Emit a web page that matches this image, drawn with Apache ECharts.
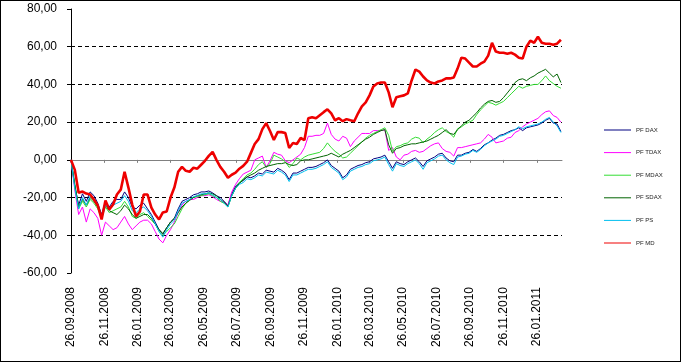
<!DOCTYPE html>
<html>
<head>
<meta charset="utf-8">
<script src="https://cdn.jsdelivr.net/npm/echarts@6/dist/echarts.min.js"></script>
<style>
html,body{margin:0;padding:0;background:#fff;}
#c{width:681px;height:362px;box-sizing:border-box;border:1px solid #000;}
</style>
</head>
<body>
<div id="c"></div>
<script>
// ---- data ----
var startDate = '26.09.2008';   // first weekly observation
var tickLabels = ['26.09.2008','26.11.2008','26.01.2009','26.03.2009','26.05.2009','26.07.2009','26.09.2009','26.11.2009',
  '26.01.2010','26.03.2010','26.05.2010','26.07.2010','26.09.2010','26.11.2010','26.01.2011'];
var seriesNames = ['PF DAX','PF TDAX','PF MDAX','PF SDAX','PF PS','PF MD'];

var dax = [0,-14,-24,-18,-22,-17,-19,-23,-29,-22,-25,-22,-21,-21,-17,-20,-25,-26,-24,-23,-26,-29,-33,-37,-39.5,-36,-33,-31,-26,-22,
  -21,-20,-18.5,-18,-17,-17,-16.5,-17.5,-19,-20,-22,-24,-18,-14,-12,-11,-9,-9.5,-8.5,-7,-7.5,-5.5,-6,-6.5,-4.5,-5.5,-7,-10.5,-7,-7,
  -6,-5,-4,-4,-3.5,-2.5,-1.5,0,-3,-4.5,-6,-9.5,-8,-5,-4,-3,-2.5,-1.5,-1,0.5,1,1.5,2.5,-1,-4.5,-1,-2,-2.5,-1,0,
  1,-1,-3.5,-0.5,0.5,1.5,3,3.5,1,-0.5,-1,2.5,2.5,3.5,4,5.5,4.5,6,8,9,10.5,11.5,13,13.5,14.5,15.5,16,17,15.5,17,
  17.5,18,18.5,19.5,21,22,19.5,19,15];
var tdax = [0,-16,-29,-25,-33,-26,-28,-31,-40,-33,-35,-37,-36,-33,-30,-34,-37,-35,-33,-32,-32,-34,-38,-42,-44,-40,-37,-33,-28,-24,
  -22,-21,-21,-20,-19,-19,-18.5,-19.5,-21,-22,-22.5,-24,-17,-13,-10,-7.5,-6.5,-5.5,0,1,2,-4,-0.5,4,3,2.5,-0.5,-1.5,0,1.5,
  3,6.5,12.5,12.5,13,13,14,19.5,13.5,11,10,12.5,11.5,7,10,12,14,14,14,15.5,15.5,15.5,16,5,6.5,1.5,0,2.5,3,4.5,
  5,4,4.5,6,7.5,8.5,9,6,4.5,4,2,6.5,6.5,7,7.5,8,8.5,9,11,13.5,12,9,9.5,10,11.5,12,14.5,15.5,17.5,19,
  20,21,22,24,25.5,26,23.5,22.5,20];
var mdax = [0,-14,-26,-22,-25,-21,-23,-26,-31,-25,-28,-27,-26,-25,-22,-25,-30,-31,-29,-28,-30,-32,-34,-38,-40,-38,-36,-34,-30,-26,
  -23,-21,-20,-19.5,-19,-18.5,-18,-19,-20,-22,-23,-25,-19,-15,-12,-10,-8,-7,-5,-2.5,-1,-4,-2,2.5,1.5,0.5,-1,-4,-2,1,
  0,1.5,2.5,3,3.5,4,6,9,6.5,4.5,3,1,1.5,3.5,5.5,7.5,9.5,11.5,13,14,15,16,17,13,4.5,7,7.5,8.5,9,11,
  12,11.5,9,11,12.5,14.5,16,17,15,14,12,16.5,17.5,19,20,21,24,26.5,28.5,30.5,30,29,30,31,33,35,37,39,38,39,
  39.5,40,40,42,44.5,42,40.5,39,38];
var sdax = [0,-13,-25,-21,-24,-20,-22,-25,-30,-24,-27,-28,-29,-27,-24,-26,-29,-31,-30,-29,-29,-31,-34,-37,-39,-36,-33,-31,-28,-25,
  -23,-21.5,-20,-19,-18.5,-18,-17.5,-18,-19,-21,-22.5,-24.5,-19,-15,-12.5,-10.5,-9,-8,-7,-5.5,-4.5,-3.5,-3,-2.5,-2,-2,-1.5,-2.5,-3,-2.5,
  -0.5,0,0,0.5,1,1.5,2,2.5,3.5,2.5,1.5,3,4,5,6.5,8,9.5,11,12,13.5,14.5,15.5,16,8,3.5,6,6.5,7.5,8,8.5,
  8.5,9,9.5,10,11,12,13,14.5,16,14,13.5,16,18,20,21,23,25,27.5,29.5,31,31.5,30.5,31,33,35.5,38,41,42.5,43,42,
  43.5,44.5,46,47,48,46,44,45.5,41];
var ps = [0,-15,-26,-20,-24,-19,-21,-24,-31,-24,-26,-24,-23,-22,-19,-22,-27,-28,-26,-25,-27,-30,-34,-38,-41,-37,-34,-32,-27,-23,
  -22,-21,-19.5,-19,-18,-18,-17.5,-18.5,-20,-21,-23,-25,-19,-15,-13,-12,-10,-10.5,-9.5,-8,-8.5,-6.5,-7,-7.5,-5.5,-6.5,-8,-11.5,-8,-8,
  -7,-6,-5,-5,-4.5,-3.5,-2.5,-1,-4,-5.5,-7,-10.5,-9,-6,-5,-4,-3.5,-2.5,-2,-0.5,0,0.5,1.5,-2.5,-6,-2,-3,-3.5,-2,-1,
  0,-2,-5,-1.5,-0.5,0.5,2,2.5,0,-1.5,-2.5,1.5,2,3,3.5,5,4,5.5,7.5,9,10,11,12.5,13,14,15,16,17.5,16.5,17.5,
  18,18.5,19,20,21.5,22.5,20,18,14.5];
var md = [0,-5.3,-17.4,-16.8,-17.9,-18.4,-21,-24.2,-31.6,-21.6,-26.3,-23.7,-18.4,-15.8,-6.3,-14.7,-23.7,-30,-27.4,-18.4,-18.4,-25.3,-29,-31.6,-27.9,-27.4,-20,-14.7,-6.3,-3.7,
  -5.8,-6.3,-4.2,-4.7,-2.6,-0.5,2.1,4.2,0,-3.7,-6.3,-9.5,-7.9,-6.8,-4.7,-3.2,-1,3.7,8.4,11,16.3,19.5,15.3,10.5,14.7,14.7,14.2,6.3,8.9,8.4,
  11.6,10.5,22.1,22.6,22.1,23.7,25.3,26.8,24.7,21,22.1,20.5,21.6,21,20.5,24.7,28.4,30.5,34.2,38.9,40.5,41,41,35.8,27.9,33.2,33.7,34.2,35.3,42.1,
  47.9,46.8,44.2,42.1,41,40.5,41.6,42.1,43.2,43.2,43.7,48.4,54.2,53.7,51.6,49.5,49.5,51,52.1,55.3,62.1,57.4,56.8,56.8,56.3,56.8,55.8,54.2,53.7,60,
  63.2,62.1,65.3,62.1,61.6,61.6,61.1,61.6,63.7];

// ---- helpers (x axis measured in days since startDate) ----
function parseD(s){var p=s.split('.');return Date.UTC(+p[2],+p[1]-1,+p[0]);}
var DAY=86400000;
var t0=parseD(startDate);
function dayOf(s){return Math.round((parseD(s)-t0)/DAY);}
function toPairs(arr){return arr.map(function(v,i){return [i*7,v];});}
var tickVals=tickLabels.map(dayOf);
var labelByDay={};tickLabels.forEach(function(s,i){labelByDay[tickVals[i]]=s;});
var xMin=0, xMax=898;

var colors=['#000080','#FF00FF','#33DD33','#006400','#00BFEF','#EE0000'];
var allData=[dax,tdax,mdax,sdax,ps,md];

var chart=echarts.init(document.getElementById('c'),null,{renderer:'canvas'});
var series=allData.map(function(arr,k){
  return {name:seriesNames[k],type:'line',xAxisIndex:0,yAxisIndex:0,data:toPairs(arr),
    showSymbol:false,symbol:'none',smooth:false,animation:false,
    lineStyle:{width:k===5?2.6:1,color:colors[k]},itemStyle:{color:colors[k]},z:2+k};
});
chart.setOption({
  animation:false,
  backgroundColor:'#fff',
  grid:{left:70,right:118,top:8,bottom:88,containLabel:false},
  legend:{orient:'vertical',left:598,top:120,itemWidth:27,itemHeight:1,itemGap:14.6,icon:'rect',
    textStyle:{fontSize:6,lineHeight:8,color:'#222',fontFamily:'Liberation Sans, Arial, sans-serif'},
    data:seriesNames},
  xAxis:[
    {type:'value',min:xMin,max:xMax,position:'bottom',axisLine:{onZero:true,lineStyle:{color:'#808080',width:1}},
     axisTick:{show:true,customValues:tickVals,length:3,lineStyle:{color:'#808080'}},
     axisLabel:{show:false},splitLine:{show:false}},
    {type:'value',min:xMin,max:xMax,position:'bottom',axisLine:{show:false,onZero:false},axisTick:{show:false},
     splitLine:{show:false},
     axisLabel:{show:true,customValues:tickVals,rotate:90,margin:14,fontSize:12,color:'#000',
       fontFamily:'Liberation Sans, Arial, sans-serif',
       formatter:function(v){return labelByDay[Math.round(v)]||'';}}}
  ],
  yAxis:{type:'value',min:-60,max:80,interval:20,
    axisLine:{show:true,lineStyle:{color:'#000',width:1}},
    axisTick:{show:true,length:4,lineStyle:{color:'#000'}},
    axisLabel:{margin:14,fontSize:12,color:'#000',fontFamily:'Liberation Sans, Arial, sans-serif',
      formatter:function(v){return v.toFixed(2).replace('.',',');}},
    splitLine:{show:true,showMinLine:false,showMaxLine:false,lineStyle:{color:'#000',type:[4,3],width:1}}},
  series:series
});
</script>
</body>
</html>
